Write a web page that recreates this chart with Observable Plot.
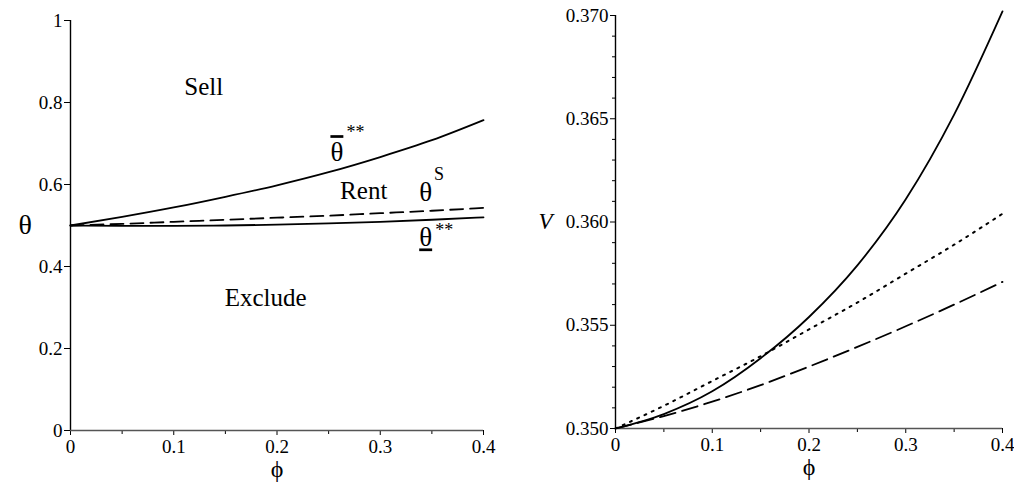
<!DOCTYPE html>
<html><head><meta charset="utf-8">
<script src="https://cdn.jsdelivr.net/npm/d3@7"></script>
<script src="https://cdn.jsdelivr.net/npm/@observablehq/plot@0.6"></script>
<style>
body{margin:0;background:#fff;}
#wrap{display:flex;width:1014px;height:488px;background:#fff;}
svg, svg text { font-family: "Liberation Serif", "DejaVu Serif", serif !important; }
</style></head><body><div id="wrap"></div>
<script>
// ---- data ----
const phi = [0, 0.05, 0.10, 0.15, 0.20, 0.25, 0.30, 0.35, 0.40];
// left panel: thresholds theta vs phi
const thetaUpperBar = [0.500, 0.521, 0.544, 0.570, 0.598, 0.630, 0.667, 0.708, 0.757];
const thetaS        = [0.500, 0.504, 0.509, 0.514, 0.519, 0.524, 0.530, 0.536, 0.543];
const thetaLowerBar = [0.500, 0.499, 0.499, 0.500, 0.502, 0.505, 0.509, 0.514, 0.520];
// right panel: V vs phi
const vSolid  = [0.3500, 0.3507, 0.3518, 0.3534, 0.3554, 0.3579, 0.3611, 0.3652, 0.3702];
const vDotted = [0.3500, 0.3511, 0.3523, 0.3535, 0.3548, 0.3561, 0.3575, 0.3589, 0.3604];
const vDashed = [0.3500, 0.3506, 0.3513, 0.3521, 0.3530, 0.35395, 0.35495, 0.3560, 0.3571];
// ticks
const xTicks = [0, 0.1, 0.2, 0.3, 0.4];
const xMinorTicks = [0.05, 0.15, 0.25, 0.35];
const leftYTicks = [0, 0.2, 0.4, 0.6, 0.8, 1];
const rightYTicks = [0.350, 0.355, 0.360, 0.365, 0.370];
const rightYMinorTicks = [0.351, 0.352, 0.353, 0.354, 0.356, 0.357, 0.358, 0.359,
                          0.361, 0.362, 0.363, 0.364, 0.366, 0.367, 0.368, 0.369];
// region / curve annotations (left panel), in data coordinates
const regionLabels = [
  {text: "Sell", phi: 0.129, theta: 0.837},
  {text: "Rent", phi: 0.284, theta: 0.585},
  {text: "Exclude", phi: 0.189, theta: 0.324}
];
// \u200B marks an overlined theta, \u200C an underlined one (set after rendering)
const curveLabels = [
  {text: "\u03B8\u200B", phi: 0.258, theta: 0.678},
  {text: "\u03B8", phi: 0.344, theta: 0.580},
  {text: "\u03B8\u200C", phi: 0.344, theta: 0.470}
];
const superLabels = [
  {text: "**", phi: 0.276, theta: 0.728, italic: false},
  {text: "S", phi: 0.357, theta: 0.626, italic: true},
  {text: "**", phi: 0.362, theta: 0.488, italic: false}
];

const font = "Liberation Serif, DejaVu Serif, serif";
const tickFont = 19;
const pairs = (xs, ys) => xs.map((x, i) => [x, ys[i]]);
const fmtX = d => d === 0 ? "0" : d3.format(".1f")(d);

const left = Plot.plot({
  width: 507, height: 488,
  marginLeft: 70, marginRight: 24, marginTop: 20, marginBottom: 58,
  style: {fontFamily: font, fontSize: tickFont + "px", color: "#000", background: "#fff"},
  x: {domain: [0, 0.4], axis: null},
  y: {domain: [0, 1], axis: null},
  marks: [
    Plot.axisX(xTicks, {tickSize: 5, tickPadding: 4, tickFormat: fmtX, label: null, fontSize: tickFont, fontFamily: font}),
    Plot.axisX(xMinorTicks, {tickSize: 4, text: null, label: null}),
    Plot.axisY(leftYTicks, {tickSize: 6, tickPadding: 2, tickFormat: d => d === 0 ? "0" : d === 1 ? "1" : d3.format(".1f")(d), label: null, fontSize: tickFont, fontFamily: font}),
    Plot.ruleX([0], {stroke: "#000", strokeWidth: 1.4}),
    Plot.ruleY([0], {stroke: "#555", strokeWidth: 1.4}),
    Plot.line(pairs(phi, thetaUpperBar), {curve: "monotone-x", stroke: "#000", strokeWidth: 1.8}),
    Plot.line(pairs(phi, thetaS), {curve: "monotone-x", stroke: "#000", strokeWidth: 1.8, strokeDasharray: "13,7"}),
    Plot.line(pairs(phi, thetaLowerBar), {curve: "monotone-x", stroke: "#000", strokeWidth: 1.8}),
    Plot.text(regionLabels, {x: "phi", y: "theta", text: "text", fontSize: 25, fill: "#000", fontFamily: font}),
    Plot.text(curveLabels, {x: "phi", y: "theta", text: "text", fontSize: 27, fill: "#000", fontFamily: font}),
    Plot.text(superLabels, {x: "phi", y: "theta", text: "text", fontSize: 18, fill: "#000", fontFamily: font, fontStyle: d => d.italic ? "italic" : "normal"}),
    Plot.text(["\u03B8"], {frameAnchor: "left", dx: -52, fontSize: 28, fill: "#000", fontFamily: font}),
    Plot.text(["\u03D5"], {frameAnchor: "bottom", dy: 46, fontSize: 24, fill: "#000", fontFamily: font})
  ]
});

const right = Plot.plot({
  width: 507, height: 488,
  marginLeft: 108, marginRight: 12, marginTop: 15, marginBottom: 60,
  style: {fontFamily: font, fontSize: tickFont + "px", color: "#000", background: "#fff"},
  x: {domain: [0, 0.4], axis: null},
  y: {domain: [0.350, 0.370], axis: null},
  marks: [
    Plot.axisX(xTicks, {tickSize: 5, tickPadding: 4, tickFormat: fmtX, label: null, fontSize: tickFont, fontFamily: font}),
    Plot.axisX(xMinorTicks, {tickSize: 4, text: null, label: null}),
    Plot.axisY(rightYTicks, {tickSize: 5, tickPadding: 2, tickFormat: d3.format(".3f"), label: null, fontSize: tickFont, fontFamily: font}),
    Plot.axisY(rightYMinorTicks, {tickSize: 3, text: null, label: null}),
    Plot.ruleX([0], {stroke: "#000", strokeWidth: 1.4}),
    Plot.ruleY([0.350], {stroke: "#555", strokeWidth: 1.4}),
    Plot.line(pairs(phi, vSolid), {curve: "monotone-x", stroke: "#000", strokeWidth: 1.8}),
    Plot.line(pairs(phi, vDotted), {curve: "monotone-x", stroke: "#000", strokeWidth: 2, strokeDasharray: "2,6"}),
    Plot.line(pairs(phi, vDashed), {curve: "monotone-x", stroke: "#000", strokeWidth: 1.8, strokeDasharray: "16,7"}),
    Plot.text(["V"], {frameAnchor: "left", dx: -77, fontSize: 23, fontStyle: "italic", fill: "#000", fontFamily: font}),
    Plot.text(["\u03D5"], {frameAnchor: "bottom", dy: 46, fontSize: 24, fill: "#000", fontFamily: font})
  ]
});

document.getElementById("wrap").append(left, right);
// overline / underline the marked theta labels
d3.select(left).selectAll("text").each(function() {
  const t = this.textContent;
  if (t.includes("\u200B")) this.style.textDecoration = "overline";
  if (t.includes("\u200C")) this.style.textDecoration = "underline";
});
</script>
</body></html>
